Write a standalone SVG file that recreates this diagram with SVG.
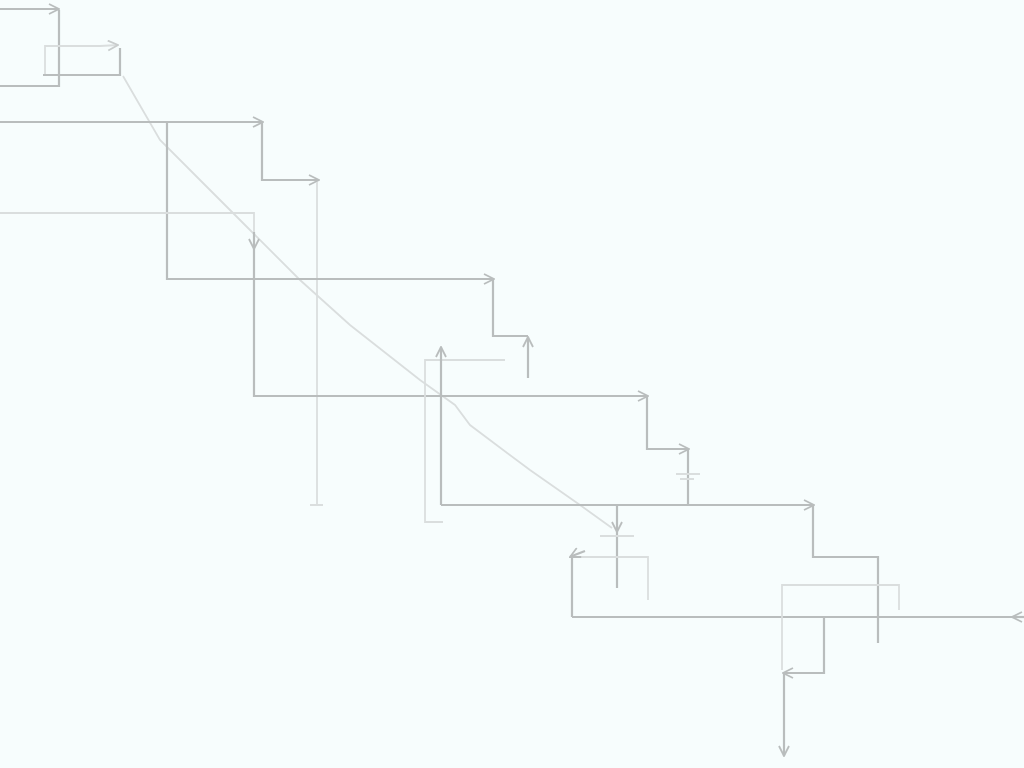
<svg xmlns="http://www.w3.org/2000/svg" width="1024" height="768" viewBox="0 0 1024 768">
<defs>
<style>
.d{fill:none;stroke:#b9bdbd;stroke-width:2.2;stroke-linejoin:miter}
.l{fill:none;stroke:#dadede;stroke-width:1.8}
</style>
<marker id="a" viewBox="0 0 12 12" refX="11" refY="6" markerWidth="12" markerHeight="12" markerUnits="userSpaceOnUse" orient="auto">
<path d="M1,1 L11,6 L1,11" fill="none" stroke="#b9bdbd" stroke-width="1.8"/>
</marker>
<marker id="al" viewBox="0 0 12 12" refX="11" refY="6" markerWidth="12" markerHeight="12" markerUnits="userSpaceOnUse" orient="auto">
<path d="M1,1 L11,6 L1,11" fill="none" stroke="#c9cdcd" stroke-width="1.8"/>
</marker>
</defs>
<rect width="1024" height="768" fill="#f7fdfd"/>
<g id="connectors">
<path class="l" d="M123,76 L138,102 L160,140 L200,180 L250,230 L300,280 L350,325 L420,380 L455,405 L470,425 L530,470 L580,505 L612,528"/>
<path class="d" d="M0,9 H59" marker-end="url(#a)"/>
<path class="d" d="M0,86 H59 V10"/>
<path class="l" d="M45,75 V46 H100 L118,45" marker-end="url(#al)"/>
<path class="d" d="M43,75 H120 V48"/>
<path class="d" d="M0,122 H263" marker-end="url(#a)"/>
<path class="d" d="M262,122 V180 H319" marker-end="url(#a)"/>
<path class="l" d="M317,182 V505 M310,505 H323"/>
<path class="d" d="M167,122 V279 H494" marker-end="url(#a)"/>
<path class="d" d="M493,280 V336 H528"/>
<path class="d" d="M528,378 V337" marker-end="url(#a)"/>
<path class="l" d="M0,213 H254 V238"/>
<path class="d" d="M254,232 V249" marker-end="url(#a)"/>
<path class="d" d="M254,249 V396 H648" marker-end="url(#a)"/>
<path class="d" d="M647,396 V449 H689" marker-end="url(#a)"/>
<path class="d" d="M688,450 V505"/>
<path class="l" d="M676,474 H700 M680,479 H694"/>
<path class="l" d="M505,360 H425 V522 H443"/>
<path class="d" d="M441,505 V347" marker-end="url(#a)"/>
<path class="d" d="M441,505 H814" marker-end="url(#a)"/>
<path class="d" d="M617,505 V532" marker-end="url(#a)"/>
<path class="d" d="M617,532 V588"/>
<path class="l" d="M600,536 H634"/>
<path class="l" d="M648,600 V557 H575"/>
<path class="d" d="M572,617 V556 L585,551"/>
<path class="d" d="M572,556 L570,557" marker-end="url(#a)"/>
<path class="d" d="M572,617 H1024"/>
<path class="d" d="M1024,617 H1012" marker-end="url(#a)"/>
<path class="d" d="M813,505 V557 H878 V643"/>
<path class="l" d="M782,670 V585 H899 V610"/>
<path class="d" d="M824,617 V673 H783" marker-end="url(#a)"/>
<path class="d" d="M784,673 V756" marker-end="url(#a)"/>
</g>
</svg>
